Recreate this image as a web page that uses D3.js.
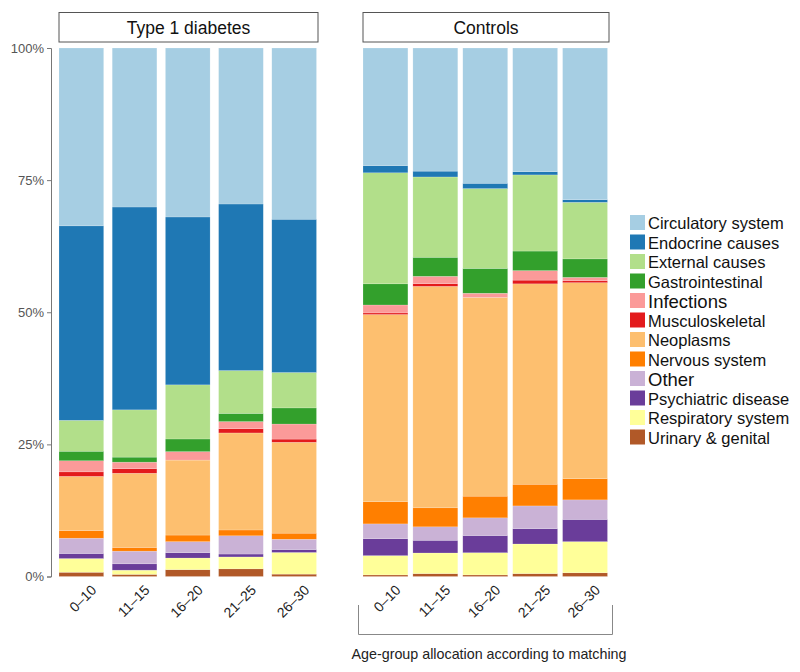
<!DOCTYPE html>
<html>
<head>
<meta charset="utf-8">
<script src="https://cdn.jsdelivr.net/npm/d3@7/dist/d3.min.js"></script>
<style>
  html, body { margin: 0; padding: 0; background: #fff; }
  svg { display: block; font-family: "Liberation Sans", Arial, Helvetica, sans-serif; }
</style>
</head>
<body>
<svg id="chart" width="800" height="672"></svg>
<script>
// ---------- DATA ----------
const ageGroups = ["0–10", "11–15", "16–20", "21–25", "26–30"];
const panels = ["Type 1 diabetes", "Controls"];
const causes = ["Circulatory system", "Endocrine causes", "External causes", "Gastrointestinal",
  "Infections", "Musculoskeletal", "Neoplasms", "Nervous system", "Other",
  "Psychiatric disease", "Respiratory system", "Urinary & genital"];
const yTicks = [0, 0.25, 0.5, 0.75, 1];
const xTitle = "Age-group allocation according to matching";

// percentages per cause, by age group (Type 1 diabetes)
const circulatoryT1D   = [33.65, 30.1, 32.0, 29.5, 32.4];
const endocrineT1D     = [36.8, 38.4, 31.8, 31.5, 29.0];
const externalT1D      = [5.85, 8.95, 10.25, 8.1, 6.7];
const gastroT1D        = [1.8, 0.95, 2.4, 1.55, 3.05];
const infectionsT1D    = [2.1, 1.25, 1.6, 1.35, 2.85];
const musculoT1D       = [0.85, 0.85, 0.0, 0.8, 0.6];
const neoplasmsT1D     = [10.25, 14.05, 14.2, 18.35, 17.2];
const nervousT1D       = [1.45, 0.7, 1.25, 1.1, 1.15];
const otherT1D         = [2.9, 2.4, 2.1, 3.45, 1.95];
const psychiatricT1D   = [0.95, 1.2, 1.0, 0.55, 0.55];
const respiratoryT1D   = [2.6, 0.8, 2.2, 2.25, 4.1];
const urinaryT1D       = [0.8, 0.4, 1.3, 1.45, 0.45];

// percentages per cause, by age group (Controls)
const circulatoryCtrl  = [22.25, 23.3, 25.6, 23.4, 28.7];
const endocrineCtrl    = [1.35, 1.1, 1.0, 0.6, 0.5];
const externalCtrl     = [21.0, 15.2, 15.1, 14.4, 10.7];
const gastroCtrl       = [4.0, 3.6, 4.7, 3.7, 3.5];
const infectionsCtrl   = [1.5, 1.4, 0.8, 1.8, 0.65];
const musculoCtrl      = [0.3, 0.5, 0.0, 0.7, 0.35];
const neoplasmsCtrl    = [35.4, 41.9, 37.6, 37.9, 37.1];
const nervousCtrl      = [4.2, 3.6, 4.1, 4.1, 4.0];
const otherCtrl        = [2.8, 2.55, 3.35, 4.3, 3.7];
const psychiatricCtrl  = [3.2, 2.4, 3.25, 2.9, 4.2];
const respiratoryCtrl  = [3.65, 3.9, 4.2, 5.6, 5.9];
const urinaryCtrl      = [0.3, 0.55, 0.3, 0.55, 0.7];

// ---------- STYLE ----------
const colors = ["#a6cee3", "#1f78b4", "#b2df8a", "#33a02c", "#fb9a99", "#e31a1c",
  "#fdbf6f", "#ff7f00", "#cab2d6", "#6a3d9a", "#ffff99", "#b15928"];

const seriesT1D = [circulatoryT1D, endocrineT1D, externalT1D, gastroT1D, infectionsT1D, musculoT1D,
  neoplasmsT1D, nervousT1D, otherT1D, psychiatricT1D, respiratoryT1D, urinaryT1D];
const seriesCtrl = [circulatoryCtrl, endocrineCtrl, externalCtrl, gastroCtrl, infectionsCtrl, musculoCtrl,
  neoplasmsCtrl, nervousCtrl, otherCtrl, psychiatricCtrl, respiratoryCtrl, urinaryCtrl];

function rows(series) {
  return ageGroups.map((g, i) => {
    const r = { group: g };
    causes.forEach((c, k) => r[c] = series[k][i]);
    return r;
  });
}

const svg = d3.select("#chart");
const color = d3.scaleOrdinal(causes, colors);

const y = d3.scaleLinear().domain([0, 1]).range([576.5, 48]);

// stack bottom-up: last cause at bottom
const stack = d3.stack()
  .keys(causes.slice().reverse())
  .offset(d3.stackOffsetExpand);

const panelDefs = [
  { name: panels[0], data: rows(seriesT1D), range: [59, 316.5], pad: 0.16 },
  { name: panels[1], data: rows(seriesCtrl), range: [363, 607.5], pad: 0.10 }
];

panelDefs.forEach(p => {
  const x = d3.scaleBand().domain(ageGroups).range(p.range).paddingInner(p.pad).paddingOuter(0);
  const g = svg.append("g");
  const layers = stack(p.data);
  g.selectAll("g.layer").data(layers).join("g")
    .attr("class", "layer")
    .attr("fill", d => color(d.key))
    .selectAll("rect").data(d => d).join("rect")
      .attr("x", d => x(d.data.group))
      .attr("width", x.bandwidth())
      .attr("y", d => y(d[1]))
      .attr("height", d => Math.max(0, y(d[0]) - y(d[1])))
      .attr("stroke", "rgba(255,255,255,0.35)")
      .attr("stroke-width", 0.5);

  // strip
  const sx0 = p.range[0], sx1 = p.range[1] + 1.5;
  g.append("rect")
    .attr("x", sx0).attr("y", 12.5).attr("width", sx1 - sx0).attr("height", 29.5)
    .attr("fill", "#fff").attr("stroke", "#555").attr("stroke-width", 1);
  g.append("text")
    .attr("x", (sx0 + sx1) / 2).attr("y", 27.5)
    .attr("text-anchor", "middle").attr("dominant-baseline", "central")
    .attr("font-size", 17.5).attr("fill", "#111")
    .text(p.name);

  // x labels
  g.selectAll("text.xl").data(ageGroups).join("text")
    .attr("class", "xl")
    .attr("transform", d => `translate(${x(d) + x.bandwidth() / 2 + 9},${584}) rotate(-45)`)
    .attr("text-anchor", "end")
    .attr("dy", "0.71em")
    .attr("font-size", 14).attr("fill", "#222")
    .text(d => d);
});

// y axis
const axis = d3.axisLeft(y).tickValues(yTicks).tickFormat(d3.format(".0%")).tickSize(4).tickPadding(3);
const ax = svg.append("g").attr("transform", "translate(51,0)").call(axis);
ax.select(".domain").attr("stroke", "#777");
ax.selectAll(".tick line").attr("stroke", "#777");
ax.selectAll(".tick text").attr("font-size", 13).attr("fill", "#555")
  .attr("font-family", "Liberation Sans, Arial, sans-serif");

// bracket + title
svg.append("path")
  .attr("d", "M358.5,605 V634.5 H612.5 V605")
  .attr("fill", "none").attr("stroke", "#888").attr("stroke-width", 1);
svg.append("text")
  .attr("x", 489).attr("y", 654)
  .attr("text-anchor", "middle").attr("dominant-baseline", "central")
  .attr("font-size", 14.3).attr("fill", "#222")
  .text(xTitle);

// legend
const leg = svg.append("g").attr("transform", "translate(630,215)");
const li = leg.selectAll("g").data(causes).join("g")
  .attr("transform", (d, i) => `translate(0,${i * 19.5})`);
li.append("rect").attr("width", 15).attr("height", 15).attr("fill", d => color(d));
li.append("text")
  .attr("x", 18).attr("y", 8)
  .attr("dominant-baseline", "central")
  .attr("font-size", d => (d === "Infections" || d === "Other") ? 18.5 : 16.5)
  .attr("fill", "#111")
  .text(d => d);
</script>
</body>
</html>
